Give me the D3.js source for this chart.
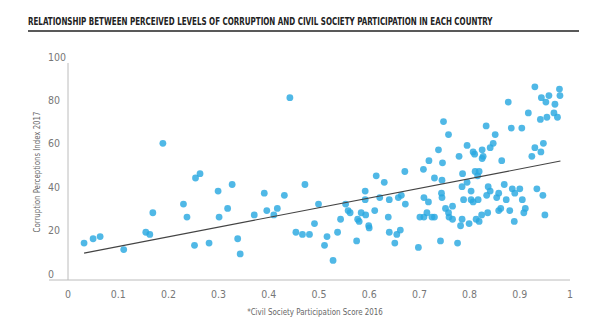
<!DOCTYPE html>
<html>
<head>
<meta charset="utf-8">
<script src="https://cdn.jsdelivr.net/npm/d3@7"></script>
<style>
    body { margin: 0; background: #fff; }
    .title { font-family: "DejaVu Sans Condensed", "DejaVu Sans", sans-serif; font-weight: bold; font-size: 10px; fill: #222; }
    .tickLabel { font-family: "Liberation Sans Narrow", "DejaVu Sans Condensed", sans-serif; font-size: 10.5px; fill: #777; }
    .axisTitle { font-family: "Liberation Sans Narrow", "DejaVu Sans Condensed", sans-serif; font-size: 9.5px; fill: #666; }
</style>
</head>
<body>
<script>
// civil society participation score 2016 (x) and corruption perceptions index 2017 (y)
var civilScore = [0.032, 0.050, 0.064, 0.111, 0.155, 0.163, 0.169, 0.189, 0.230, 0.237,
    0.252, 0.254, 0.263, 0.281, 0.299, 0.301, 0.318, 0.327, 0.338, 0.343,
    0.371, 0.391, 0.396, 0.410, 0.417, 0.431, 0.442, 0.454, 0.467, 0.472,
    0.481, 0.491, 0.499, 0.511, 0.516, 0.528, 0.537, 0.543, 0.553, 0.558,
    0.562, 0.575, 0.577, 0.580, 0.584, 0.592, 0.592, 0.593, 0.599, 0.600,
    0.614, 0.611, 0.621, 0.630, 0.638, 0.640, 0.640, 0.651, 0.655, 0.658,
    0.662, 0.664, 0.672, 0.671, 0.698, 0.701, 0.708, 0.709, 0.709, 0.715,
    0.718, 0.719, 0.725, 0.730, 0.730, 0.738, 0.742, 0.744, 0.745, 0.745,
    0.746, 0.748, 0.752, 0.758, 0.758, 0.759, 0.766, 0.766, 0.776, 0.779,
    0.782, 0.785, 0.785, 0.786, 0.788, 0.795, 0.795, 0.799, 0.803, 0.803,
    0.807, 0.807, 0.810, 0.811, 0.819, 0.816, 0.813, 0.817, 0.819, 0.824,
    0.825, 0.825, 0.827, 0.833, 0.834, 0.836, 0.837, 0.841, 0.841, 0.847,
    0.851, 0.854, 0.858, 0.858, 0.862, 0.864, 0.869, 0.873, 0.877, 0.880,
    0.883, 0.885, 0.890, 0.889, 0.900, 0.904, 0.905, 0.911, 0.908, 0.917,
    0.924, 0.930, 0.930, 0.934, 0.941, 0.942, 0.943, 0.946, 0.947, 0.950,
    0.952, 0.954, 0.958, 0.968, 0.970, 0.975, 0.979, 0.980];
var cpiScore = [17, 19, 20, 14, 22, 21, 31, 63, 35, 29,
    16, 47, 49, 17, 41, 29, 33, 44, 19, 12,
    30, 40, 32, 30, 33, 39, 84, 22, 21, 44,
    21, 26, 35, 16, 20, 9, 22, 28, 35, 32,
    31, 18, 28, 27, 31, 41, 37, 30, 25, 24,
    48, 32, 38, 45, 29, 37, 22, 17, 21, 38,
    23, 39, 35, 50, 15, 29, 51, 29, 38, 31,
    36, 55, 29, 29, 47, 60, 18, 40, 38, 46,
    54, 73, 33, 67, 31, 29, 34, 28, 17, 57,
    25, 28, 43, 49, 37, 45, 62, 26, 41, 37,
    36, 59, 58, 50, 50, 48, 28, 37, 27, 30,
    60, 56, 57, 71, 39, 31, 43, 61, 41, 63,
    67, 38, 40, 32, 33, 55, 44, 37, 82, 32,
    70, 42, 40, 27, 42, 70, 37, 33, 31, 77,
    57, 89, 61, 42, 74, 59, 84, 39, 63, 30,
    82, 75, 85, 77, 81, 75, 88, 85];

// linear trend line end points
var trendX = [0.032, 0.981];
var trendY = [12.4, 54.8];

// tick labels
var xTicks = [0, 0.1, 0.2, 0.3, 0.4, 0.5, 0.6, 0.7, 0.8, 0.9, 1];
var yTicks = [0, 20, 40, 60, 80, 100];

(function(){

    var width = 602,
        height = 323;

    var svg = d3.select("body")
        .append("svg")
        .attr("width", width)
        .attr("height", height);

    //scales
    var x = d3.scaleLinear().domain([0, 1]).range([68, 570]);
    var y = d3.scaleLinear().domain([0, 100]).range([280, 63]);

    //squeeze a text horizontally so it spans a given width (condensed look)
    function fitWidth(node, tx, ty, target, rotate){
        var w = node.node().getComputedTextLength();
        var sx = Math.min(1, target / w);
        var t = "translate(" + tx + "," + ty + ")";
        if (rotate) t += " rotate(" + rotate + ")";
        node.attr("transform", t + " scale(" + sx + ",1)");
    }

    //title with rule underneath
    var title = svg.append("text")
        .attr("class", "title")
        .text("RELATIONSHIP BETWEEN PERCEIVED LEVELS OF CORRUPTION AND CIVIL SOCIETY PARTICIPATION IN EACH COUNTRY");
    fitWidth(title, 28, 25, 465);

    svg.append("line")
        .attr("x1", 28)
        .attr("x2", 579)
        .attr("y1", 31)
        .attr("y2", 31)
        .attr("stroke", "#222")
        .attr("stroke-width", 1.6);

    //axis lines
    svg.append("line")
        .attr("x1", x(0))
        .attr("x2", x(0))
        .attr("y1", y(100))
        .attr("y2", y(0))
        .attr("stroke", "#bcbcbc");

    svg.append("line")
        .attr("x1", 49)
        .attr("x2", x(1))
        .attr("y1", y(0))
        .attr("y2", y(0))
        .attr("stroke", "#bcbcbc");

    //tick labels
    svg.selectAll(".yTick")
        .data(yTicks)
        .enter()
        .append("text")
        .attr("class", "tickLabel yTick")
        .attr("x", 48)
        .attr("y", function(d){ return y(d) - 6; })
        .attr("dy", "0.35em")
        .text(function(d){ return d; });

    svg.selectAll(".xTick")
        .data(xTicks)
        .enter()
        .append("text")
        .attr("class", "tickLabel xTick")
        .attr("x", function(d){ return x(d); })
        .attr("y", 294)
        .attr("dy", "0.35em")
        .attr("text-anchor", "middle")
        .text(function(d){ return d; });

    //axis titles
    var yTitle = svg.append("text")
        .attr("class", "axisTitle")
        .attr("text-anchor", "middle")
        .attr("dy", "0.35em")
        .text("Corruption Perceptions Index 2017");
    fitWidth(yTitle, 37, 172, 121, -90);

    var xTitle = svg.append("text")
        .attr("class", "axisTitle")
        .attr("dy", "0.35em")
        .attr("text-anchor", "middle")
        .text("*Civil Society Participation Score 2016");
    fitWidth(xTitle, 315, 312, 136);

    //points
    svg.selectAll(".dot")
        .data(civilScore)
        .enter()
        .append("circle")
        .attr("class", "dot")
        .attr("cx", function(d){ return x(d); })
        .attr("cy", function(d, i){ return y(cpiScore[i]); })
        .attr("r", 3.4)
        .style("fill", "#29a8e0")
        .style("fill-opacity", 0.82);

    //trend line
    var line = d3.line()
        .x(function(d){ return x(d); })
        .y(function(d, i){ return y(trendY[i]); });

    svg.append("path")
        .datum(trendX)
        .attr("d", line)
        .attr("fill", "none")
        .attr("stroke", "#444")
        .attr("stroke-width", 1.1);

})();
</script>
</body>
</html>
